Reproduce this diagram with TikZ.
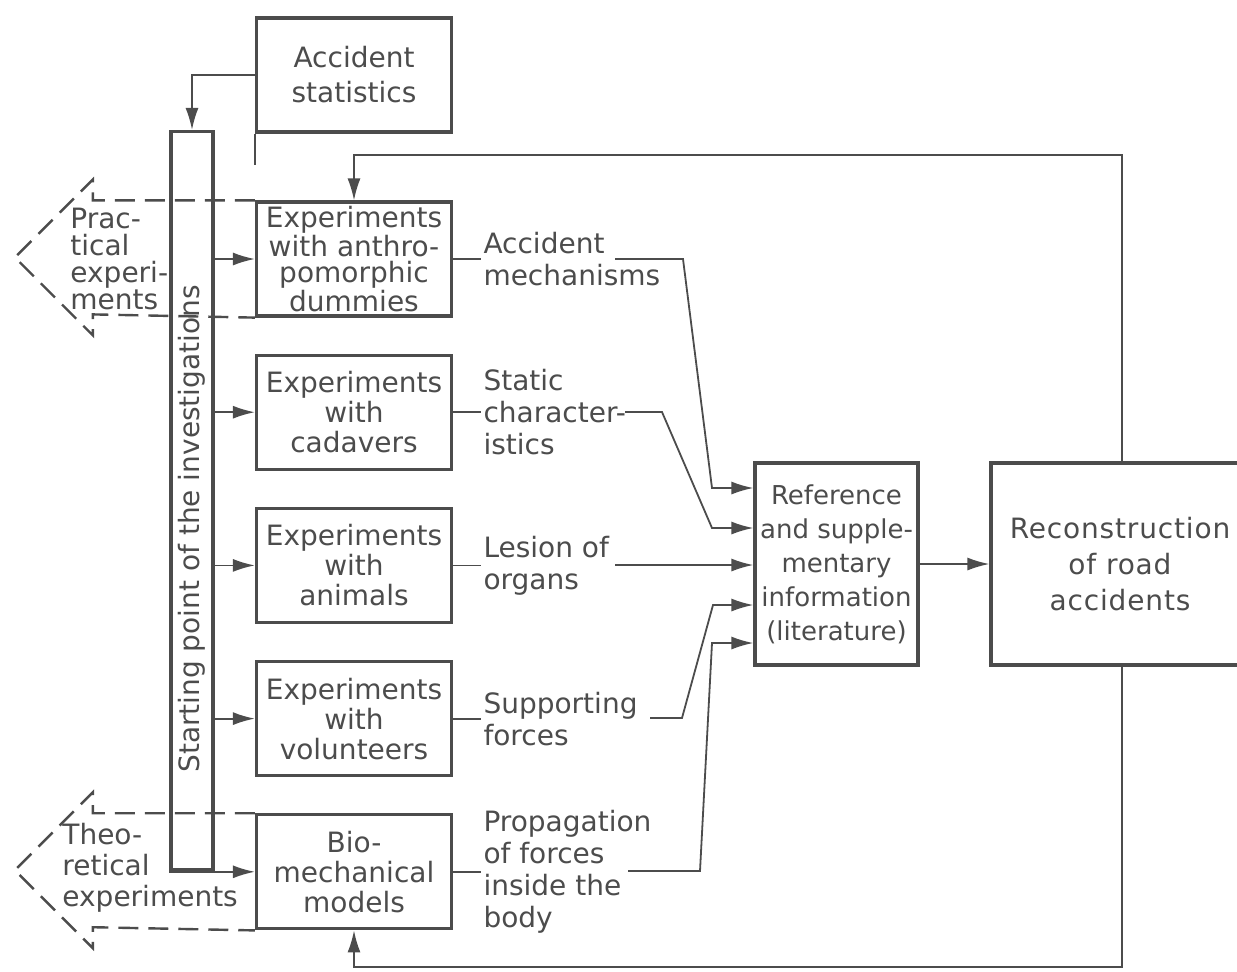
\documentclass[tikz,border=0pt]{standalone}
\usepackage{fontspec}
\setmainfont{DejaVu Sans}
\usetikzlibrary{arrows.meta, positioning, calc}
\definecolor{ink}{gray}{0.3}

\begin{document}
\begin{tikzpicture}[
    x=0.5pt, y=-0.5pt,
    >={Latex[length=11pt,width=6.5pt]},
    every node/.style={text=ink},
    expbox/.style={draw=ink, line width=1.6pt, minimum width=97.5pt, minimum height=57pt, inner sep=1pt, align=center, font=\fontsize{14}{15}\selectfont},
    infobox/.style={draw=ink, line width=1.6pt, minimum height=101pt, inner sep=1pt, align=center},
    lbl/.style={inner sep=1pt, align=left, font=\fontsize{14}{16}\selectfont},
    flow/.style={->, draw=ink, line width=0.9pt},
    link/.style={draw=ink, line width=0.9pt},
    dashflow/.style={draw=ink, line width=1.2pt, dash pattern=on 10pt off 5pt}
]
    \useasboundingbox (0,0) rectangle (1237,971);

    \node[expbox, font=\fontsize{14}{17.5}\selectfont] (Stats) at (354,75) {Accident\\statistics};
    \node[expbox, font=\fontsize{14}{13}\selectfont] (ExpDummy) at (354,259) {Experiments\\with anthro-\\pomorphic\\dummies};
    \node[expbox, below=18pt of ExpDummy] (ExpCadaver) {Experiments\\with\\cadavers};
    \node[expbox, below=18pt of ExpCadaver] (ExpAnimal) {Experiments\\with\\animals};
    \node[expbox, below=18pt of ExpAnimal] (ExpVolunteer) {Experiments\\with\\volunteers};
    \node[expbox, below=18pt of ExpVolunteer] (BioModel) {Bio-\\mechanical\\models};

    % starting bar
    \node[draw=ink, line width=1.6pt, minimum width=21pt, minimum height=369pt, inner sep=0pt] (Start) at (192,500.5) {};
    \node[rotate=90, font=\fontsize{14}{15}\selectfont] (StartLbl) at (192,529) {Starting point of the investigations};

    \node[lbl, anchor=west, font=\fontsize{14}{13.5}\selectfont] (Practical) at (68,259) {Prac-\\tical\\experi-\\ments};
    \node[lbl, anchor=west, font=\fontsize{14}{15.5}\selectfont] (Theoretical) at (60,868) {Theo-\\retical\\experiments};

    \node[lbl, right=14pt of ExpDummy] (Mechanism) {Accident\\mechanisms};
    \node[lbl, right=14pt of ExpCadaver] (Static) {Static\\character-\\istics};
    \node[lbl, right=14pt of ExpAnimal] (Lesion) {Lesion of\\organs};
    \node[lbl, right=14pt of ExpVolunteer] (Support) {Supporting\\forces};
    \node[lbl, right=14pt of BioModel] (Propagation) {Propagation\\of forces\\inside the\\body};

    \node[infobox, minimum width=81.5pt, font=\fontsize{13}{17}\selectfont] (Info) at (836.5,564) {Reference\\and supple-\\mentary\\information\\(literature)};
    \node[infobox, minimum width=129pt, font=\fontsize{14}{18}\selectfont\addfontfeature{LetterSpace=3}] (Recon) at (1120,564) {Reconstruction\\of road\\accidents};

    \coordinate (StatsTail) at ($(Stats.south west)+(0,31)$);
    \coordinate (MechOut) at (615,259);
    \coordinate (StaticOut) at (625,412);
    \coordinate (LesionOut) at (615,565);
    \coordinate (SupportOut) at (650,718);
    \coordinate (PropOut) at (628,871);
    \coordinate (FbTop) at (1122,155);
    \coordinate (FbBottom) at (1122,967);

    % dashed block arrows
    \draw[dashflow] (ExpDummy.north west) -- ++(-162,0) -- ++(0,-21) -- ++(-78,78) -- ++(78,78) -- ++(0,-21) -- (ExpDummy.south west);
    \draw[dashflow] (BioModel.north west) -- ++(-162,0) -- ++(0,-21) -- ++(-78,78) -- ++(78,78) -- ++(0,-21) -- (BioModel.south west);

    \draw[link] (Stats.south west) -- (StatsTail);
    \draw[flow] (Stats.west) -| (Start.north);

    \draw[flow] (ExpDummy.west -| Start.east) -- (ExpDummy.west);
    \draw[flow] (ExpCadaver.west -| Start.east) -- (ExpCadaver.west);
    \draw[flow] (ExpAnimal.west -| Start.east) -- (ExpAnimal.west);
    \draw[flow] (ExpVolunteer.west -| Start.east) -- (ExpVolunteer.west);
    \draw[flow] (BioModel.west -| Start.west) -- (BioModel.west);

    \draw[link] (ExpDummy) -- (Mechanism);
    \draw[link] (ExpCadaver) -- (Static);
    \draw[link] (ExpAnimal) -- (Lesion);
    \draw[link] (ExpVolunteer) -- (Support);
    \draw[link] (BioModel) -- (Propagation);

    \draw[flow] (MechOut) -- (683,259) -- (712,488) -- ($(Info.west)+(0,-76)$);
    \draw[flow] (StaticOut) -- (662,412) -- (712,528) -- ($(Info.west)+(0,-36)$);
    \draw[flow] (LesionOut) -- (LesionOut -| Info.west);
    \draw[flow] (SupportOut) -- (682,718) -- (713,605) -- ($(Info.west)+(0,41)$);
    \draw[flow] (PropOut) -- (700,871) -- (712,643) -- ($(Info.west)+(0,79)$);

    \draw[flow] (Info) -- (Recon);
    \draw[flow] (Recon.north -| FbTop) -- (FbTop) -| (ExpDummy.north);
    \draw[flow] (Recon.south -| FbBottom) -- (FbBottom) -| (BioModel.south);

\end{tikzpicture}
\end{document}
